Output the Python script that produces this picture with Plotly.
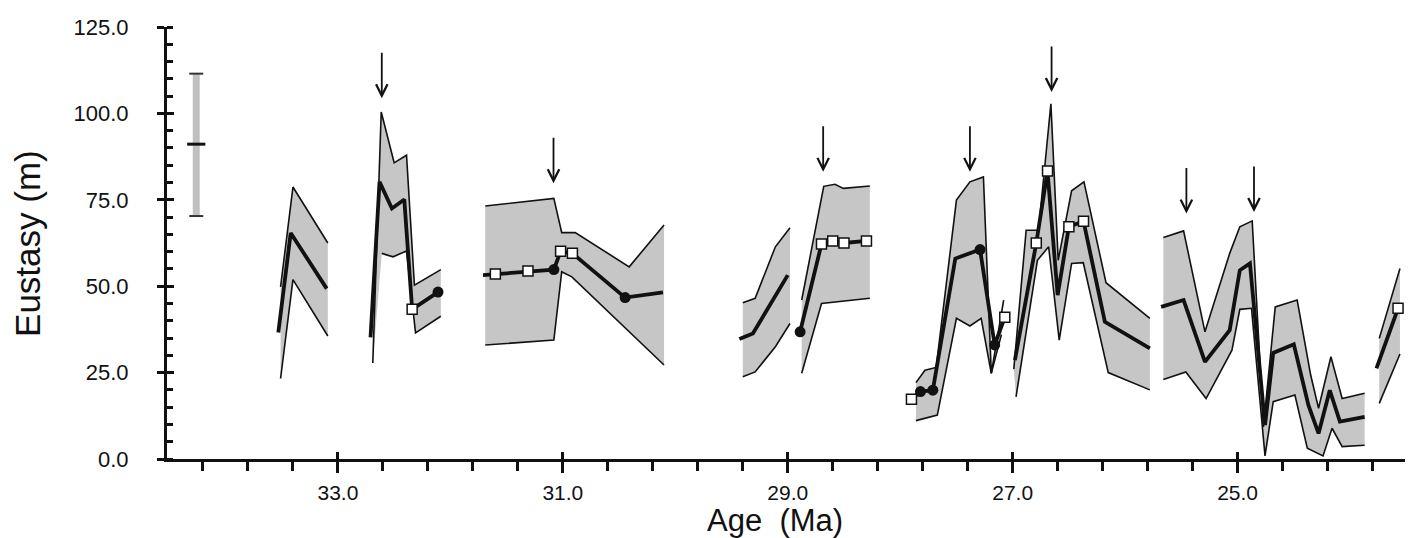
import plotly.graph_objects as go

# ---------------- data (age in Ma, eustasy in m) ----------------
A_MEAN_AGE = [33.53, 33.42, 33.10]
A_MEAN = [36.6, 65.4, 49.3]
A_UP_AGE = [33.51, 33.40, 33.09]
A_UP = [49.8, 78.7, 62.5]
A_LO_AGE = [33.51, 33.40, 33.09]
A_LO = [23.3, 51.9, 35.6]

B_MEAN_AGE = [32.71, 32.63, 32.52, 32.41, 32.34, 32.11]
B_MEAN = [35.2, 80.2, 72.5, 75.1, 43.3, 48.3]
B_UP_AGE = [32.69, 32.615, 32.50, 32.39, 32.32, 32.085]
B_UP = [27.8, 100.4, 85.7, 87.9, 50.3, 54.8]
B_LO_AGE = [32.61, 32.51, 32.39, 32.31, 32.085]
B_LO = [59.5, 58.5, 60.2, 36.5, 41.3]

C_MEAN_AGE = [31.71, 31.60, 31.31, 31.08, 31.02, 30.915, 30.446, 30.11]
C_MEAN = [53.2, 53.5, 54.4, 54.8, 60.1, 59.5, 46.7, 48.2]
C_UP_AGE = [31.69, 31.08, 31.01, 30.89, 30.41, 30.10]
C_UP = [73.2, 75.4, 65.5, 65.5, 55.6, 67.7]
C_LO_AGE = [31.69, 31.08, 31.01, 30.92, 30.10]
C_LO = [33.0, 34.4, 54.2, 52.7, 27.2]

D1_MEAN_AGE = [29.43, 29.31, 29.00]
D1_MEAN = [34.7, 36.3, 53.2]
D1_UP_AGE = [29.40, 29.29, 29.11, 28.98]
D1_UP = [45.2, 46.5, 61.4, 66.9]
D1_LO_AGE = [29.40, 29.29, 29.11, 28.98]
D1_LO = [23.8, 25.2, 32.5, 39.2]

D2_MEAN_AGE = [28.89, 28.70, 28.60, 28.50, 28.30]
D2_MEAN = [36.8, 62.2, 63.1, 62.5, 63.1]
D2_UP_AGE = [28.876, 28.68, 28.58, 28.506, 28.27]
D2_UP = [46.0, 78.9, 79.5, 78.3, 79.0]
D2_LO_AGE = [28.876, 28.70, 28.27]
D2_LO = [24.8, 45.0, 46.5]

E_MEAN_AGE = [27.90, 27.82, 27.71, 27.51, 27.29, 27.16, 27.07]
E_MEAN = [17.3, 19.5, 19.9, 58.0, 60.6, 33.0, 41.0]
E_UP_AGE = [27.86, 27.78, 27.68, 27.50, 27.38, 27.26, 27.19, 27.08]
E_UP = [22.1, 25.7, 26.5, 74.9, 80.2, 81.6, 24.8, 46.0]
E_LO_AGE = [27.86, 27.67, 27.50, 27.38, 27.28, 27.19, 27.10]
E_LO = [11.1, 12.7, 40.7, 38.5, 40.7, 24.8, 36.0]

F_MEAN_AGE = [26.98, 26.79, 26.69, 26.60, 26.50, 26.37, 26.18, 25.78]
F_MEAN = [28.6, 62.5, 83.3, 47.4, 67.2, 68.8, 39.7, 32.0]
F_UP_AGE = [26.99, 26.88, 26.77, 26.66, 26.595, 26.476, 26.366, 26.17, 25.78]
F_UP = [26.0, 66.2, 66.2, 102.8, 57.5, 77.6, 80.2, 51.0, 40.7]
F_LO_AGE = [26.97, 26.78, 26.68, 26.586, 26.476, 26.372, 26.15, 25.78]
F_LO = [18.0, 57.5, 61.4, 34.4, 56.6, 56.8, 25.0, 20.0]

G_MEAN_AGE = [25.68, 25.48, 25.29, 25.07, 24.98, 24.89, 24.756, 24.683,
              24.50, 24.37, 24.28, 24.18, 24.09, 23.87]
G_MEAN = [44.0, 46.0, 28.1, 37.3, 54.6, 56.6, 9.8, 30.7,
          33.2, 15.6, 7.4, 19.9, 10.8, 12.2]
G_UP_AGE = [25.66, 25.48, 25.29, 25.07, 24.98, 24.87, 24.77, 24.665,
            24.47, 24.35, 24.28, 24.17, 24.07, 23.87]
G_UP = [64.1, 66.0, 36.8, 59.5, 67.2, 68.9, 9.3, 44.0,
        46.0, 24.3, 14.7, 29.6, 17.5, 19.0]
G_LO_AGE = [25.66, 25.46, 25.28, 25.05, 24.98, 24.876, 24.756, 24.683,
            24.49, 24.38, 24.24, 24.16, 24.07, 23.87]
G_LO = [23.0, 25.2, 17.5, 31.5, 43.3, 43.6, 0.9, 16.6,
        18.5, 3.1, 0.9, 8.9, 3.6, 4.0]

H_MEAN_AGE = [23.765, 23.573]
H_MEAN = [26.2, 43.6]
H_UP_AGE = [23.74, 23.556]
H_UP = [34.9, 55.1]
H_LO_AGE = [23.74, 23.556]
H_LO = [16.1, 30.4]

SQUARE_AGE = [32.34, 31.60, 31.31, 31.02, 30.915, 28.70, 28.60, 28.50, 28.30,
              27.90, 27.07, 26.79, 26.69, 26.50, 26.37, 23.573]
SQUARE_M = [43.3, 53.5, 54.4, 60.1, 59.5, 62.2, 63.1, 62.5, 63.1,
            17.3, 41.0, 62.5, 83.3, 67.2, 68.8, 43.6]
DOT_AGE = [32.11, 31.08, 30.446, 28.89, 27.82, 27.71, 27.29, 27.16]
DOT_M = [48.3, 54.8, 46.7, 36.8, 19.5, 19.9, 60.6, 33.0]

ARROW_AGE = [32.61, 31.083, 28.685, 27.38, 26.654, 25.455, 24.854]
ARROW_M = [104.4, 79.8, 83.1, 83.1, 106.2, 71.0, 71.5]

ERR_AGE = 34.26
ERR_CENTER = 91.1
ERR_LOW = 70.3
ERR_HIGH = 111.5

X_TICK_START = 33.0
X_RANGE = [34.52, 23.44]
Y_RANGE = [0, 125]

# ---------------- figure ----------------
FONT = "Liberation Sans, Arial, Helvetica, sans-serif"
GRAY = "#c6c6c6"
INK = "#111111"

segments = [
    (A_MEAN_AGE, A_MEAN, A_UP_AGE, A_UP, A_LO_AGE, A_LO),
    (B_MEAN_AGE, B_MEAN, B_UP_AGE, B_UP, B_LO_AGE, B_LO),
    (C_MEAN_AGE, C_MEAN, C_UP_AGE, C_UP, C_LO_AGE, C_LO),
    (D1_MEAN_AGE, D1_MEAN, D1_UP_AGE, D1_UP, D1_LO_AGE, D1_LO),
    (D2_MEAN_AGE, D2_MEAN, D2_UP_AGE, D2_UP, D2_LO_AGE, D2_LO),
    (E_MEAN_AGE, E_MEAN, E_UP_AGE, E_UP, E_LO_AGE, E_LO),
    (F_MEAN_AGE, F_MEAN, F_UP_AGE, F_UP, F_LO_AGE, F_LO),
    (G_MEAN_AGE, G_MEAN, G_UP_AGE, G_UP, G_LO_AGE, G_LO),
    (H_MEAN_AGE, H_MEAN, H_UP_AGE, H_UP, H_LO_AGE, H_LO),
]

fig = go.Figure()

# gray envelopes
for ma, m, ua, u, la, lo in segments:
    fig.add_trace(go.Scatter(
        x=list(ua) + list(la)[::-1], y=list(u) + list(lo)[::-1],
        mode="lines", fill="toself", fillcolor=GRAY,
        line=dict(width=0, color=GRAY), hoverinfo="skip", showlegend=False))

# thin envelope lines
for ma, m, ua, u, la, lo in segments:
    for xa, ya in ((ua, u), (la, lo)):
        fig.add_trace(go.Scatter(
            x=xa, y=ya, mode="lines", line=dict(color=INK, width=1.6),
            hoverinfo="skip", showlegend=False))

# thick mean lines
for ma, m, ua, u, la, lo in segments:
    fig.add_trace(go.Scatter(
        x=ma, y=m, mode="lines", line=dict(color=INK, width=3.8),
        hoverinfo="skip", showlegend=False))

# markers
fig.add_trace(go.Scatter(
    x=DOT_AGE, y=DOT_M, mode="markers",
    marker=dict(symbol="circle", size=11, color=INK, line=dict(width=0)),
    showlegend=False))
fig.add_trace(go.Scatter(
    x=SQUARE_AGE, y=SQUARE_M, mode="markers",
    marker=dict(symbol="square", size=10, color="white",
                line=dict(width=1.5, color=INK)),
    showlegend=False))

# error bar (left)
fig.add_trace(go.Scatter(
    x=[ERR_AGE, ERR_AGE], y=[ERR_LOW, ERR_HIGH], mode="lines",
    line=dict(color="#c0c0c0", width=7), showlegend=False, hoverinfo="skip"))
fig.add_trace(go.Scatter(
    x=[ERR_AGE, ERR_AGE], y=[ERR_LOW, ERR_HIGH], mode="markers",
    marker=dict(symbol="line-ew", size=10, line=dict(width=2, color="#333333")),
    showlegend=False, hoverinfo="skip"))
fig.add_trace(go.Scatter(
    x=[ERR_AGE], y=[ERR_CENTER], mode="markers",
    marker=dict(symbol="line-ew", size=13, line=dict(width=3, color=INK)),
    showlegend=False, hoverinfo="skip"))

# dummy trace for overlay axes (crossing ticks)
fig.add_trace(go.Scatter(x=[], y=[], xaxis="x2", yaxis="y2", showlegend=False))

# arrows (open chevron heads)
for a, v in zip(ARROW_AGE, ARROW_M):
    fig.add_annotation(x=a, y=v, ax=0, ay=-47, text="", showarrow=True,
                       arrowhead=5, arrowsize=1.25, arrowwidth=1.8,
                       arrowcolor=INK, standoff=0)

# axis titles
fig.add_annotation(x=0.488, y=-0.0995, xref="paper", yref="paper",
                   text="Age\u00a0\u00a0(Ma)", showarrow=False,
                   font=dict(size=31, color=INK, family=FONT),
                   xanchor="center", yanchor="top", borderpad=0)
fig.add_annotation(x=-0.1124, y=0.5, xref="paper", yref="paper",
                   text="Eustasy (m)", showarrow=False, textangle=-90,
                   font=dict(size=35, color=INK, family=FONT),
                   xanchor="center", yanchor="middle")

axis_common = dict(showgrid=False, zeroline=False, tickcolor=INK,
                   tickwidth=2.5)

# The page body adds an 8 px offset; the figure is sized to fill the rest.
fig.update_layout(
    width=1405, height=530,
    margin=dict(l=159, r=0, t=19, b=79),
    paper_bgcolor="white", plot_bgcolor="white",
    font=dict(family=FONT, color=INK),
    showlegend=False,
    xaxis=dict(range=X_RANGE, tickmode="linear", tick0=X_TICK_START, dtick=2,
               tickformat=".1f", ticks="outside", ticklen=11,
               showline=True, linewidth=3, linecolor=INK,
               tickfont=dict(size=21, color=INK), ticklabelstandoff=2,
               minor=dict(tick0=X_TICK_START, dtick=0.4, ticks="outside",
                          ticklen=9, tickwidth=2.5, tickcolor=INK,
                          showgrid=False),
               **axis_common),
    yaxis=dict(range=Y_RANGE, tickmode="linear", tick0=0, dtick=25,
               tickformat=".1f", ticks="outside", ticklen=7,
               showline=True, linewidth=3, linecolor=INK,
               tickfont=dict(size=22, color=INK), ticklabelstandoff=24,
               minor=dict(tick0=0, dtick=5, ticks="inside", ticklen=6,
                          tickwidth=2.5, tickcolor=INK, showgrid=False),
               **axis_common),
    xaxis2=dict(range=X_RANGE, overlaying="x", anchor="y2", side="bottom",
                tickmode="linear", tick0=X_TICK_START, dtick=2,
                ticks="inside", ticklen=7, showticklabels=False,
                showline=False, **axis_common),
    yaxis2=dict(range=Y_RANGE, overlaying="y", anchor="x2", side="left",
                tickmode="linear", tick0=0, dtick=25,
                ticks="inside", ticklen=7, showticklabels=False,
                showline=False, **axis_common),
)

fig.write_html("out.html")
